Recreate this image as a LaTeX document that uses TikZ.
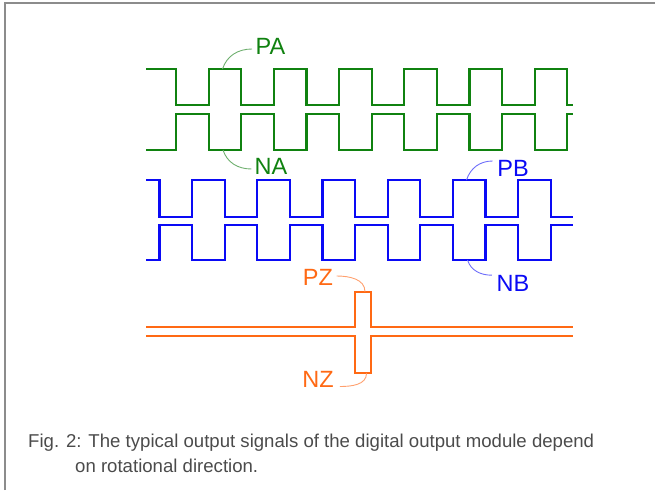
\documentclass[tikz,border=0pt]{standalone}
\usepackage{fontspec}
\setmainfont{Liberation Sans}
\usetikzlibrary{calc}
\definecolor{sgreen}{RGB}{16,130,16}
\definecolor{sblue}{RGB}{10,10,245}
\definecolor{sorange}{RGB}{255,105,20}
\definecolor{lgreen}{RGB}{110,175,110}
\definecolor{lblue}{RGB}{110,110,250}
\definecolor{lorange}{RGB}{255,160,110}
\definecolor{framegray}{RGB}{140,140,140}
\definecolor{capgray}{RGB}{75,75,75}
\tikzset{
  wave/.style={line width=2.2pt, line join=miter},
  leader/.style={line width=0.9pt},
  sig/.style={inner sep=0pt, font=\fontsize{23.5}{26}\selectfont},
  captext/.style={inner sep=0pt, anchor=west, text=capgray, font=\fontsize{18.6}{21}\selectfont},
}
\begin{document}
\begin{tikzpicture}[x=1pt,y=-1pt]
\useasboundingbox (0,0) rectangle (655,490);
% frame
\draw[framegray, line width=2pt] (5,490) -- (5,3) -- (655,3);

% ---- channel A ----
\draw[wave, sgreen] (146,69)
  \foreach \k in {0,...,5} { -- ({176+65.2*\k},69) -- ({176+65.2*\k},105) -- ({208.6+65.2*\k},105) -- ({208.6+65.2*\k},69) }
  -- (567.2,69) -- (567.2,105) -- (573,105);
\draw[wave, sgreen] (146,150)
  \foreach \k in {0,...,5} { -- ({176+65.2*\k},150) -- ({176+65.2*\k},114.3) -- ({208.6+65.2*\k},114.3) -- ({208.6+65.2*\k},150) }
  -- (567.2,150) -- (567.2,114.3) -- (573,114.3);

% ---- channel B ----
\draw[wave, sblue] (146,180)
  \foreach \k in {0,...,5} { -- ({159.5+65.2*\k},180) -- ({159.5+65.2*\k},216.7) -- ({192.1+65.2*\k},216.7) -- ({192.1+65.2*\k},180) }
  -- (550.7,180) -- (550.7,216.7) -- (573,216.7);
\draw[wave, sblue] (146,260)
  \foreach \k in {0,...,5} { -- ({159.5+65.2*\k},260) -- ({159.5+65.2*\k},225) -- ({192.1+65.2*\k},225) -- ({192.1+65.2*\k},260) }
  -- (550.7,260) -- (550.7,225) -- (573,225);

% ---- channel Z ----
\draw[wave, sorange] (146,327.3) -- (355,327.3) -- (355,291.7) -- (370.7,291.7) -- (370.7,327.3) -- (573,327.3);
\draw[wave, sorange] (146,336) -- (355,336) -- (355,373.3) -- (370.7,373.3) -- (370.7,336) -- (573,336);

% ---- labels ----
\node[sig, text=sgreen] (PA) at (270.5,46) {PA};
\node[sig, text=sgreen] (NA) at (271,166.5) {NA};
\node[sig, text=sblue] (PB) at (513,168) {PB};
\node[sig, text=sblue] (NB) at (513,283.7) {NB};
\node[sig, text=sorange] (PZ) at (318,277) {PZ};
\node[sig, text=sorange] (NZ) at (318,379) {NZ};

% ---- leader tips on the waveforms ----
\coordinate (pa-tip) at (222.5,69);
\coordinate (na-tip) at (223,150);
\coordinate (pb-tip) at (466.5,180);
\coordinate (nb-tip) at (467.5,260);
\coordinate (pz-tip) at (365,291.7);
\coordinate (nz-tip) at (366.5,373.3);

\draw[leader, lgreen] (pa-tip) to[out=72,in=180] ($(PA.west)+(-3.5,3)$);
\draw[leader, lgreen] (na-tip) to[out=-72,in=180] ($(NA.west)+(-3,2.5)$);
\draw[leader, lblue] (pb-tip) to[out=72,in=180] ($(PB.west)+(-4.5,-7)$);
\draw[leader, lblue] (nb-tip) to[out=-72,in=180] ($(NB.west)+(-4.5,-8.5)$);
\draw[leader, lorange] ($(PZ.east)+(3.5,-1)$) to[out=0,in=90] (pz-tip);
\draw[leader, lorange] ($(NZ.east)+(6,7.5)$) to[out=0,in=-90] (nz-tip);

% ---- caption ----
\node[captext] (cap1) at (28,443) {Fig. 2: The typical output signals of the digital output module depend};
\node[captext] (cap2) at (75,466) {on rotational direction.};
\end{tikzpicture}
\end{document}
